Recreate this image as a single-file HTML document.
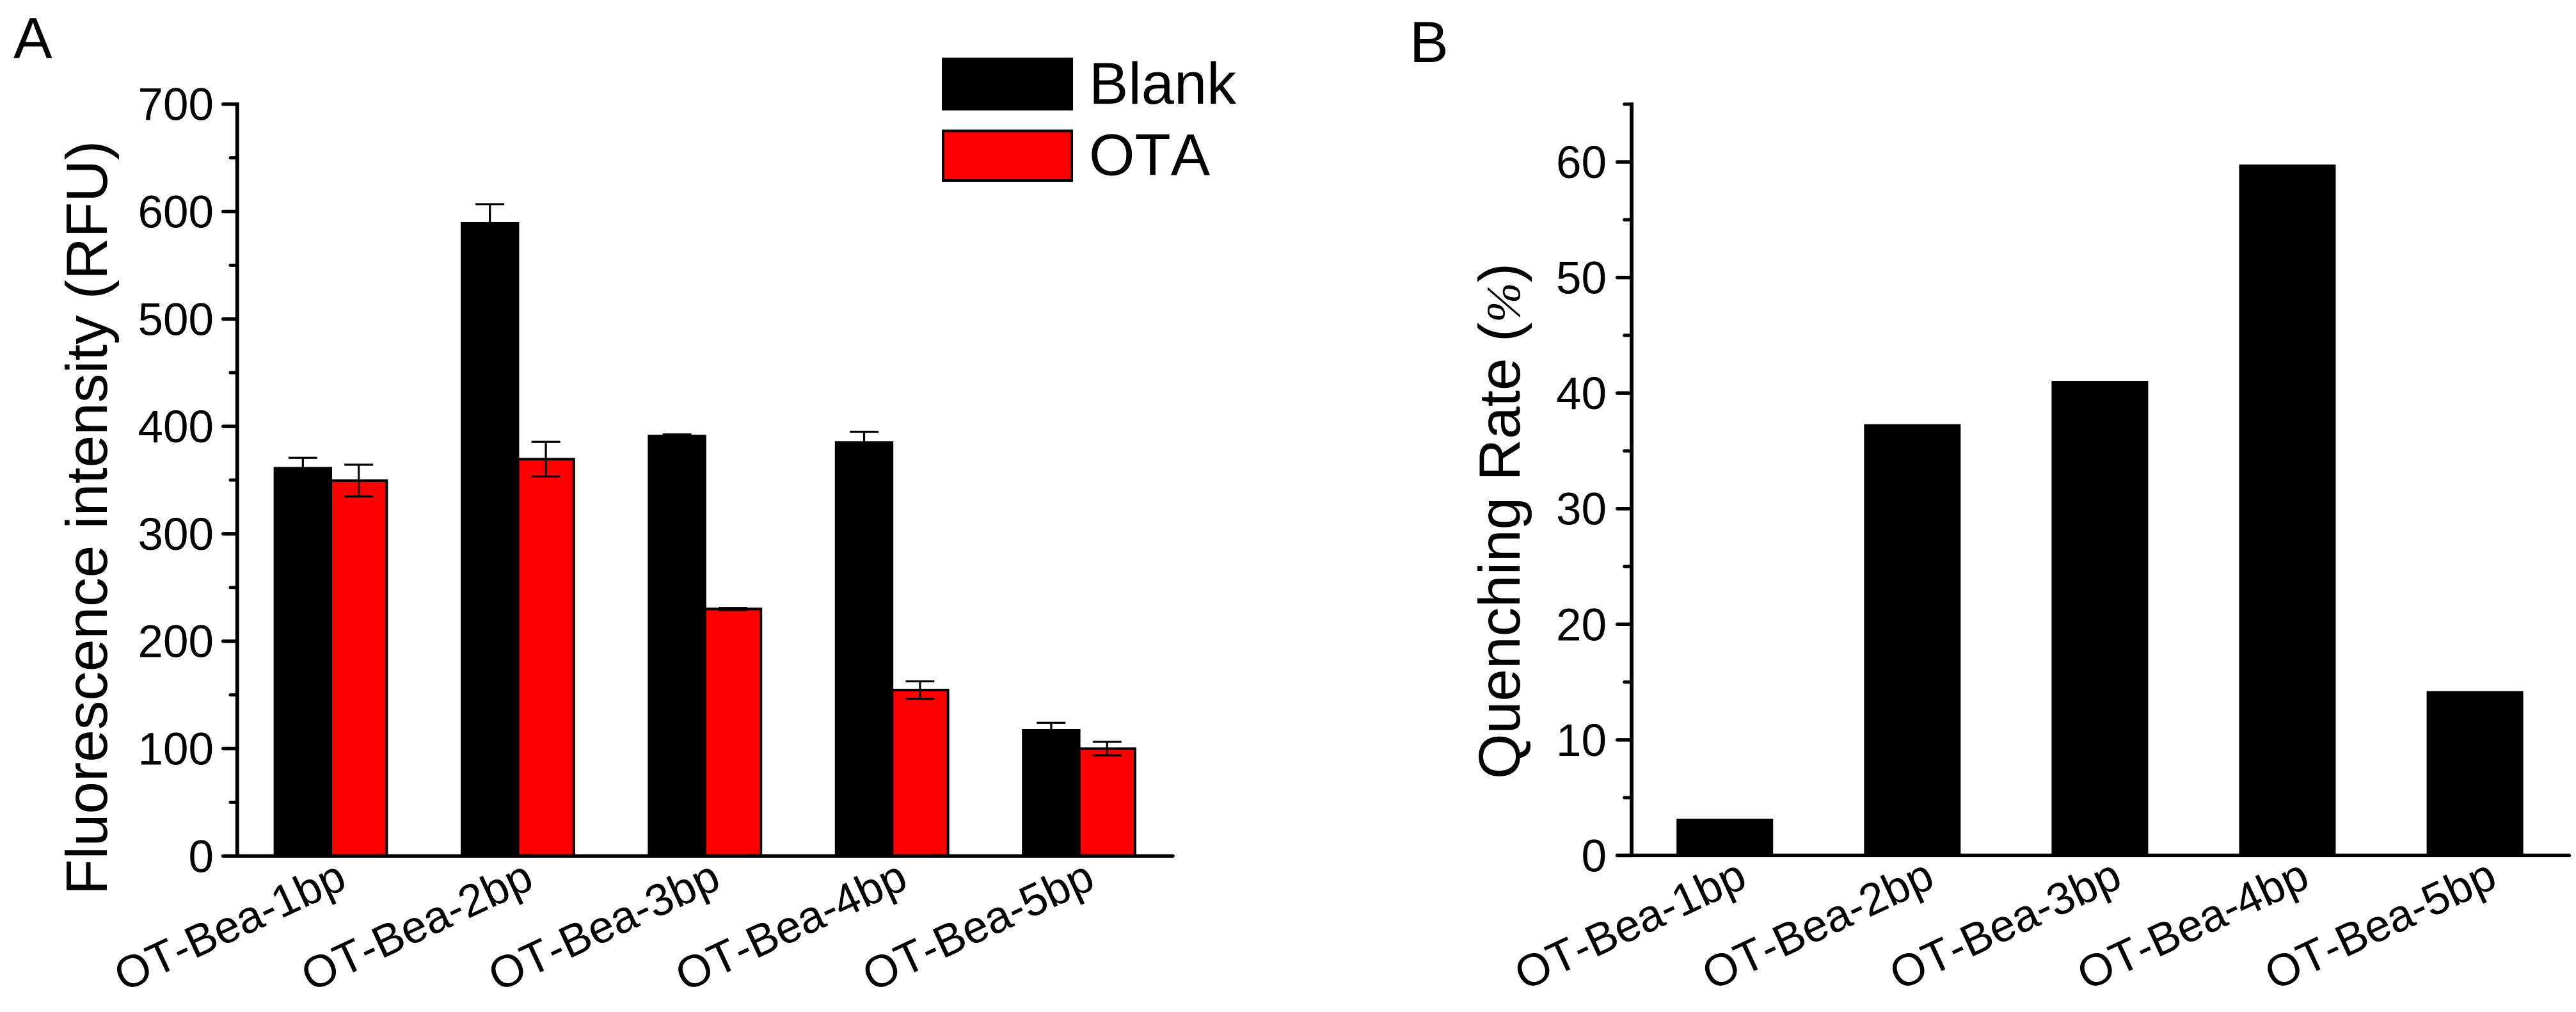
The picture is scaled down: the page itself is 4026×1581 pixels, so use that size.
<!DOCTYPE html>
<html lang="en">
<head>
<meta charset="utf-8">
<title>Fluorescence intensity and quenching rate</title>
<style>
html,body{margin:0;padding:0;background:#fff;}
svg{display:block;}
text{font-family:"Liberation Sans",Arial,sans-serif;fill:#000;font-kerning:none;}
</style>
</head>
<body>
<svg id="figure" xmlns="http://www.w3.org/2000/svg" width="4026" height="1581" viewBox="0 0 4026 1581">
  <rect x="0" y="0" width="4026" height="1581" fill="#fff"/>
  <text x="21" y="91" font-size="91">A</text>
  <text x="2203" y="97" font-size="91">B</text>
  <text transform="translate(167,1398) rotate(-90)" font-size="91">Fluorescence intensity (RFU)</text>
  <text transform="translate(2375,1217) rotate(-90)" font-size="91">Quenching Rate (<tspan font-family="'Liberation Serif',serif" font-style="italic" font-size="75">%</tspan>)</text>
  <g>
    <rect x="1474" y="92" width="201" height="78.5" fill="#000" stroke="#000" stroke-width="4"/>
    <text x="1702" y="162" font-size="92">Blank</text>
    <rect x="1474" y="204.5" width="201" height="77.5" fill="#f00" stroke="#000" stroke-width="4"/>
    <text x="1702" y="273.5" font-size="92">OTA</text>
  </g>
</svg>
<script>
const categories = ['OT-Bea-1bp', 'OT-Bea-2bp', 'OT-Bea-3bp', 'OT-Bea-4bp', 'OT-Bea-5bp'];
const blankValues = [361, 589, 391, 385, 117];
const blankErrors = [9.7, 17.9, 1.5, 10, 7];
const otaValues = [349.5, 369.5, 230, 154.5, 100];
const otaErrors = [14.8, 16.1, 1, 8.2, 6.3];
const quenchingValues = [3.07, 37.2, 40.95, 59.67, 14.1];
const panelATicks = [0, 100, 200, 300, 400, 500, 600, 700];
const panelAMinorTicks = [50, 150, 250, 350, 450, 550, 650];
const panelBTicks = [0, 10, 20, 30, 40, 50, 60];
const panelBMinorTicks = [5, 15, 25, 35, 45, 55, 65];

const NS = 'http://www.w3.org/2000/svg';
const svg = document.getElementById('figure');
function mk(tag, attrs, text) {
  const el = document.createElementNS(NS, tag);
  for (const k in attrs) el.setAttribute(k, attrs[k]);
  if (text !== undefined) el.textContent = text;
  svg.appendChild(el);
  return el;
}
function yA(v) { return 1337.3 - v * 1.678; }
function yB(v) { return 1336.4 - v * 18.056; }
function xA(i) { return 517 + 292.4 * i; }
function xB(i) { return 2695.7 + 293.1 * i; }
function line(x1, y1, x2, y2, w, cap) {
  return mk('line', { x1: x1, y1: y1, x2: x2, y2: y2, stroke: '#000', 'stroke-width': w, 'stroke-linecap': cap || 'butt' });
}

const barW = 87.4;
// Panel A bars: red first so black bars overlap the shared edge
otaValues.forEach(function (v, i) {
  const cx = xA(i) + barW / 2;
  const bar = mk('rect', { x: xA(i), y: yA(v), width: barW, height: yA(0) - yA(v), fill: '#f00', stroke: '#000', 'stroke-width': 4 });
  
  
  const e = otaErrors[i];
  const stem = line(cx, yA(v + e), cx, yA(v - e), 3.2);
  
  
  const capTop = line(cx - 22.5, yA(v + e), cx + 22.5, yA(v + e), 3.2);
  
  
  const capBottom = line(cx - 22.5, yA(v - e), cx + 22.5, yA(v - e), 3.2);
  
  
});
blankValues.forEach(function (v, i) {
  const cx = xA(i) - barW / 2;
  const bar = mk('rect', { x: xA(i) - barW, y: yA(v), width: barW, height: yA(0) - yA(v), fill: '#000', stroke: '#000', 'stroke-width': 4 });
  
  
  const e = blankErrors[i];
  const stem = line(cx, yA(v + e), cx, yA(v), 3.2);
  
  
  const capTop = line(cx - 22.5, yA(v + e), cx + 22.5, yA(v + e), 3.2);
  
  
});

// Panel B bars
const barWB = 147;
quenchingValues.forEach(function (v, i) {
  const bar = mk('rect', { x: xB(i) - barWB / 2, y: yB(v), width: barWB, height: yB(0) - yB(v), fill: '#000', stroke: '#000', 'stroke-width': 4 });
  
  
});

// Panel A axes
const axisAY = line(370.8, yA(700) - 2.7, 370.8, yA(0), 6);


const axisAX = line(348.7, yA(0), 1833, yA(0), 5.5, 'round');


panelATicks.forEach(function (v) {
  const t = line(348.7, yA(v), 370.8, yA(v), 5.5, 'round');
  
  
  const lab = mk('text', { x: 334, y: yA(v) + 25, 'text-anchor': 'end', 'font-size': 71 }, String(v));
  
  
});
panelAMinorTicks.forEach(function (v) {
  const t = line(360, yA(v), 370.8, yA(v), 5, 'round');
  
  
});

// Panel B axes
const axisBY = line(2550, yB(65) - 2.7, 2550, yB(0), 6);


const axisBX = line(2527.5, yB(0), 4015.5, yB(0), 5.5, 'round');


panelBTicks.forEach(function (v) {
  const t = line(2527.5, yB(v), 2550, yB(v), 5.5, 'round');
  
  
  const lab = mk('text', { x: 2511, y: yB(v) + 25, 'text-anchor': 'end', 'font-size': 71 }, String(v));
  
  
});
panelBMinorTicks.forEach(function (v) {
  const t = line(2538.5, yB(v), 2550, yB(v), 5, 'round');
  
  
});

// Category labels
categories.forEach(function (c, i) {
  const a = mk('text', { transform: 'translate(' + (xA(i) + 28) + ',1386) rotate(-25)', 'text-anchor': 'end', 'font-size': 70.5 }, c);
  
  
  const b = mk('text', { transform: 'translate(' + (xB(i) + 38) + ',1384) rotate(-25)', 'text-anchor': 'end', 'font-size': 70.5 }, c);
  
  
});
</script>
</body>
</html>
